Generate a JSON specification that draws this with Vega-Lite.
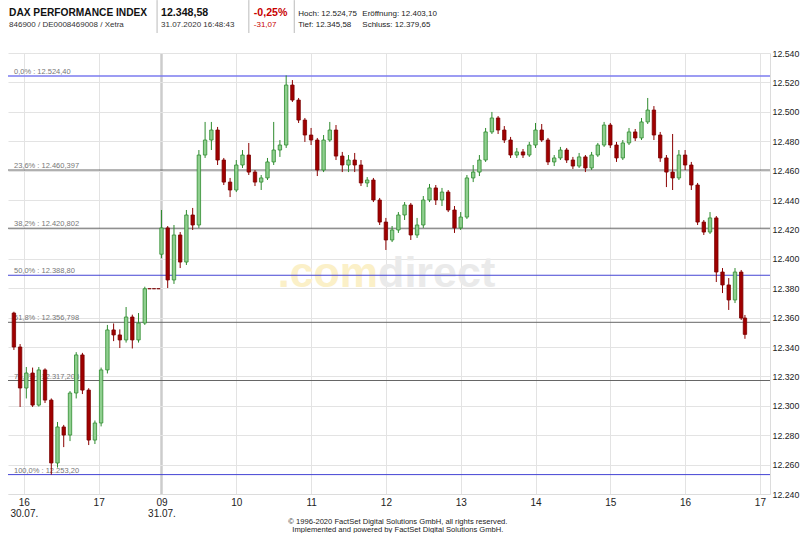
{
  "$schema": "https://vega.github.io/schema/vega-lite/v6.json",
  "width": 762,
  "height": 441,
  "autosize": {"type": "none"},
  "padding": {"left": 8, "top": 53, "right": 30, "bottom": 39},
  "background": "white",
  "config": {
    "view": {"stroke": null},
    "text": {"font": "Liberation Sans"},
    "axis": {"labelFont": "Liberation Sans", "labelOverlap": false, "labelBound": false, "labelFlush": false, "ticks": false, "domainColor": "#dcdcdc", "gridColor": "#e3e3e3", "labelColor": "#222222", "title": null}
  },
  "datasets": {
    "candles": [
      {"h": -0.133, "o": 12363.1, "hi": 12364.0, "lo": 12338.0, "c": 12340.0},
      {"h": -0.050, "o": 12340.0, "hi": 12342.0, "lo": 12299.2, "c": 12312.1},
      {"h": 0.033, "o": 12312.1, "hi": 12326.4, "lo": 12305.0, "c": 12322.3},
      {"h": 0.117, "o": 12322.3, "hi": 12326.0, "lo": 12299.2, "c": 12300.5},
      {"h": 0.200, "o": 12300.5, "hi": 12326.4, "lo": 12299.5, "c": 12324.4},
      {"h": 0.283, "o": 12324.4, "hi": 12325.5, "lo": 12301.9, "c": 12303.9},
      {"h": 0.367, "o": 12303.9, "hi": 12305.0, "lo": 12253.2, "c": 12261.1},
      {"h": 0.450, "o": 12261.1, "hi": 12289.0, "lo": 12258.0, "c": 12285.6},
      {"h": 0.533, "o": 12285.6, "hi": 12287.0, "lo": 12271.9, "c": 12280.1},
      {"h": 0.617, "o": 12280.1, "hi": 12310.0, "lo": 12276.0, "c": 12308.7},
      {"h": 0.700, "o": 12308.7, "hi": 12336.5, "lo": 12305.0, "c": 12334.6},
      {"h": 0.783, "o": 12334.6, "hi": 12336.0, "lo": 12308.0, "c": 12310.7},
      {"h": 0.867, "o": 12310.7, "hi": 12312.0, "lo": 12273.3, "c": 12276.7},
      {"h": 0.950, "o": 12276.7, "hi": 12290.0, "lo": 12274.0, "c": 12288.3},
      {"h": 1.033, "o": 12288.3, "hi": 12326.0, "lo": 12286.0, "c": 12324.4},
      {"h": 1.117, "o": 12324.4, "hi": 12355.0, "lo": 12322.0, "c": 12351.6},
      {"h": 1.200, "o": 12351.6, "hi": 12356.0, "lo": 12344.0, "c": 12348.2},
      {"h": 1.283, "o": 12348.2, "hi": 12352.0, "lo": 12339.3, "c": 12344.8},
      {"h": 1.367, "o": 12344.8, "hi": 12367.2, "lo": 12343.0, "c": 12360.4},
      {"h": 1.450, "o": 12360.4, "hi": 12362.0, "lo": 12339.0, "c": 12344.8},
      {"h": 1.533, "o": 12344.8, "hi": 12363.1, "lo": 12343.0, "c": 12356.3},
      {"h": 1.617, "o": 12356.3, "hi": 12381.0, "lo": 12355.0, "c": 12379.65},
      {"h": 1.680, "o": 12379.65, "hi": 12379.65, "lo": 12379.65, "c": 12379.65},
      {"h": 1.740, "o": 12379.65, "hi": 12379.65, "lo": 12379.65, "c": 12379.65},
      {"h": 1.800, "o": 12379.65, "hi": 12379.65, "lo": 12379.65, "c": 12379.65},
      {"h": 1.840, "o": 12403.1, "hi": 12433.2, "lo": 12400.5, "c": 12421.0},
      {"h": 1.923, "o": 12421.0, "hi": 12422.3, "lo": 12380.1, "c": 12385.6},
      {"h": 2.007, "o": 12385.6, "hi": 12423.0, "lo": 12382.9, "c": 12416.2},
      {"h": 2.090, "o": 12416.2, "hi": 12418.2, "lo": 12393.7, "c": 12397.8},
      {"h": 2.173, "o": 12397.8, "hi": 12433.2, "lo": 12395.8, "c": 12429.8},
      {"h": 2.257, "o": 12429.8, "hi": 12434.6, "lo": 12419.6, "c": 12423.0},
      {"h": 2.340, "o": 12423.0, "hi": 12474.0, "lo": 12421.0, "c": 12470.6},
      {"h": 2.423, "o": 12470.6, "hi": 12493.1, "lo": 12468.6, "c": 12480.8},
      {"h": 2.507, "o": 12480.8, "hi": 12493.1, "lo": 12474.0, "c": 12487.6},
      {"h": 2.590, "o": 12487.6, "hi": 12489.7, "lo": 12463.8, "c": 12467.2},
      {"h": 2.673, "o": 12467.2, "hi": 12468.6, "lo": 12450.2, "c": 12452.2},
      {"h": 2.757, "o": 12452.2, "hi": 12455.0, "lo": 12442.0, "c": 12446.8},
      {"h": 2.840, "o": 12446.8, "hi": 12467.2, "lo": 12445.4, "c": 12463.8},
      {"h": 2.923, "o": 12463.8, "hi": 12474.0, "lo": 12461.8, "c": 12470.6},
      {"h": 3.007, "o": 12470.6, "hi": 12478.8, "lo": 12457.0, "c": 12459.0},
      {"h": 3.090, "o": 12459.0, "hi": 12460.4, "lo": 12449.5, "c": 12452.2},
      {"h": 3.173, "o": 12452.2, "hi": 12457.0, "lo": 12446.8, "c": 12455.0},
      {"h": 3.257, "o": 12455.0, "hi": 12468.6, "lo": 12453.6, "c": 12465.9},
      {"h": 3.340, "o": 12465.9, "hi": 12493.1, "lo": 12463.8, "c": 12474.0},
      {"h": 3.423, "o": 12474.0, "hi": 12480.8, "lo": 12469.3, "c": 12477.4},
      {"h": 3.507, "o": 12477.4, "hi": 12524.75, "lo": 12475.4, "c": 12518.2},
      {"h": 3.590, "o": 12518.2, "hi": 12521.6, "lo": 12506.7, "c": 12508.0},
      {"h": 3.673, "o": 12508.0, "hi": 12509.4, "lo": 12492.4, "c": 12494.4},
      {"h": 3.757, "o": 12494.4, "hi": 12495.8, "lo": 12479.5, "c": 12484.2},
      {"h": 3.840, "o": 12484.2, "hi": 12489.0, "lo": 12477.4, "c": 12480.8},
      {"h": 3.923, "o": 12480.8, "hi": 12482.2, "lo": 12456.3, "c": 12460.4},
      {"h": 4.007, "o": 12460.4, "hi": 12484.2, "lo": 12459.0, "c": 12480.8},
      {"h": 4.090, "o": 12480.8, "hi": 12493.1, "lo": 12479.5, "c": 12487.6},
      {"h": 4.173, "o": 12487.6, "hi": 12491.0, "lo": 12467.2, "c": 12469.9},
      {"h": 4.257, "o": 12469.9, "hi": 12472.7, "lo": 12459.0, "c": 12463.8},
      {"h": 4.340, "o": 12463.8, "hi": 12470.6, "lo": 12459.0, "c": 12467.2},
      {"h": 4.423, "o": 12467.2, "hi": 12472.0, "lo": 12459.0, "c": 12463.8},
      {"h": 4.507, "o": 12463.8, "hi": 12467.2, "lo": 12449.5, "c": 12451.6},
      {"h": 4.590, "o": 12451.6, "hi": 12455.6, "lo": 12448.8, "c": 12453.6},
      {"h": 4.673, "o": 12453.6, "hi": 12455.0, "lo": 12438.6, "c": 12440.0},
      {"h": 4.757, "o": 12440.0, "hi": 12441.4, "lo": 12423.0, "c": 12425.0},
      {"h": 4.840, "o": 12425.0, "hi": 12427.8, "lo": 12406.0, "c": 12412.8},
      {"h": 4.923, "o": 12412.8, "hi": 12422.3, "lo": 12411.4, "c": 12419.6},
      {"h": 5.007, "o": 12419.6, "hi": 12431.8, "lo": 12417.6, "c": 12429.8},
      {"h": 5.090, "o": 12429.8, "hi": 12438.6, "lo": 12426.4, "c": 12436.6},
      {"h": 5.173, "o": 12436.6, "hi": 12438.0, "lo": 12412.8, "c": 12416.2},
      {"h": 5.257, "o": 12416.2, "hi": 12427.8, "lo": 12414.2, "c": 12423.0},
      {"h": 5.340, "o": 12423.0, "hi": 12442.7, "lo": 12421.0, "c": 12440.0},
      {"h": 5.423, "o": 12440.0, "hi": 12450.9, "lo": 12438.6, "c": 12448.2},
      {"h": 5.507, "o": 12448.2, "hi": 12450.2, "lo": 12436.6, "c": 12440.0},
      {"h": 5.590, "o": 12440.0, "hi": 12448.2, "lo": 12435.9, "c": 12445.4},
      {"h": 5.673, "o": 12445.4, "hi": 12446.8, "lo": 12431.8, "c": 12433.2},
      {"h": 5.757, "o": 12433.2, "hi": 12435.9, "lo": 12417.6, "c": 12421.0},
      {"h": 5.840, "o": 12421.0, "hi": 12431.8, "lo": 12419.6, "c": 12428.4},
      {"h": 5.923, "o": 12428.4, "hi": 12457.0, "lo": 12427.1, "c": 12455.0},
      {"h": 6.007, "o": 12455.0, "hi": 12463.8, "lo": 12452.2, "c": 12459.0},
      {"h": 6.090, "o": 12459.0, "hi": 12470.6, "lo": 12456.3, "c": 12467.2},
      {"h": 6.173, "o": 12467.2, "hi": 12489.0, "lo": 12465.9, "c": 12486.3},
      {"h": 6.257, "o": 12486.3, "hi": 12499.9, "lo": 12484.9, "c": 12495.8},
      {"h": 6.340, "o": 12495.8, "hi": 12497.1, "lo": 12484.9, "c": 12487.6},
      {"h": 6.423, "o": 12487.6, "hi": 12490.3, "lo": 12478.8, "c": 12480.8},
      {"h": 6.507, "o": 12480.8, "hi": 12482.9, "lo": 12468.6, "c": 12470.6},
      {"h": 6.590, "o": 12470.6, "hi": 12475.4, "lo": 12468.6, "c": 12472.7},
      {"h": 6.673, "o": 12472.7, "hi": 12474.7, "lo": 12468.6, "c": 12470.6},
      {"h": 6.757, "o": 12470.6, "hi": 12479.5, "lo": 12469.3, "c": 12477.4},
      {"h": 6.840, "o": 12477.4, "hi": 12492.4, "lo": 12475.4, "c": 12487.6},
      {"h": 6.923, "o": 12487.6, "hi": 12491.7, "lo": 12479.5, "c": 12480.8},
      {"h": 7.007, "o": 12480.8, "hi": 12482.2, "lo": 12463.8, "c": 12465.9},
      {"h": 7.090, "o": 12465.9, "hi": 12470.6, "lo": 12463.1, "c": 12468.6},
      {"h": 7.173, "o": 12468.6, "hi": 12476.1, "lo": 12467.2, "c": 12474.0},
      {"h": 7.257, "o": 12474.0, "hi": 12475.4, "lo": 12465.2, "c": 12467.2},
      {"h": 7.340, "o": 12467.2, "hi": 12469.3, "lo": 12461.1, "c": 12463.1},
      {"h": 7.423, "o": 12463.1, "hi": 12472.0, "lo": 12461.8, "c": 12469.3},
      {"h": 7.507, "o": 12469.3, "hi": 12470.6, "lo": 12459.0, "c": 12461.8},
      {"h": 7.590, "o": 12461.8, "hi": 12472.7, "lo": 12460.4, "c": 12470.6},
      {"h": 7.673, "o": 12470.6, "hi": 12478.8, "lo": 12469.3, "c": 12477.4},
      {"h": 7.757, "o": 12477.4, "hi": 12493.1, "lo": 12476.1, "c": 12491.0},
      {"h": 7.840, "o": 12491.0, "hi": 12492.4, "lo": 12475.4, "c": 12477.4},
      {"h": 7.923, "o": 12477.4, "hi": 12479.5, "lo": 12465.9, "c": 12468.6},
      {"h": 8.007, "o": 12468.6, "hi": 12480.8, "lo": 12467.2, "c": 12478.8},
      {"h": 8.090, "o": 12478.8, "hi": 12489.0, "lo": 12477.4, "c": 12486.3},
      {"h": 8.173, "o": 12486.3, "hi": 12488.3, "lo": 12480.1, "c": 12482.2},
      {"h": 8.257, "o": 12482.2, "hi": 12495.8, "lo": 12480.8, "c": 12493.1},
      {"h": 8.340, "o": 12493.1, "hi": 12509.4, "lo": 12491.7, "c": 12501.2},
      {"h": 8.423, "o": 12501.2, "hi": 12503.9, "lo": 12480.8, "c": 12484.2},
      {"h": 8.507, "o": 12484.2, "hi": 12486.3, "lo": 12465.9, "c": 12468.6},
      {"h": 8.590, "o": 12468.6, "hi": 12470.6, "lo": 12448.8, "c": 12459.0},
      {"h": 8.673, "o": 12459.0, "hi": 12484.9, "lo": 12446.8, "c": 12455.0},
      {"h": 8.757, "o": 12455.0, "hi": 12474.0, "lo": 12453.6, "c": 12470.6},
      {"h": 8.840, "o": 12470.6, "hi": 12474.0, "lo": 12460.4, "c": 12463.8},
      {"h": 8.923, "o": 12463.8, "hi": 12465.9, "lo": 12446.8, "c": 12450.2},
      {"h": 9.007, "o": 12450.2, "hi": 12451.6, "lo": 12423.0, "c": 12425.0},
      {"h": 9.090, "o": 12425.0, "hi": 12426.4, "lo": 12416.2, "c": 12418.2},
      {"h": 9.173, "o": 12418.2, "hi": 12431.8, "lo": 12416.9, "c": 12427.8},
      {"h": 9.257, "o": 12427.8, "hi": 12429.1, "lo": 12384.2, "c": 12391.0},
      {"h": 9.340, "o": 12391.0, "hi": 12393.7, "lo": 12376.7, "c": 12382.2},
      {"h": 9.423, "o": 12382.2, "hi": 12386.9, "lo": 12365.2, "c": 12372.0},
      {"h": 9.507, "o": 12372.0, "hi": 12393.7, "lo": 12369.9, "c": 12391.0},
      {"h": 9.590, "o": 12391.0, "hi": 12392.4, "lo": 12358.4, "c": 12359.7},
      {"h": 9.640, "o": 12359.7, "hi": 12361.8, "lo": 12345.58, "c": 12348.58}
    ],
    "fib": [
      {"pct": 0, "value": 12524.40, "label": "0,0% : 12.524,40"},
      {"pct": 23.6, "value": 12460.397, "label": "23,6% : 12.460,397"},
      {"pct": 38.2, "value": 12420.802, "label": "38,2% : 12.420,802"},
      {"pct": 50, "value": 12388.80, "label": "50,0% : 12.388,80"},
      {"pct": 61.8, "value": 12356.798, "label": "61,8% : 12.356,798"},
      {"pct": 76.4, "value": 12317.203, "label": "76,4% : 12.317,203"},
      {"pct": 100, "value": 12253.20, "label": "100,0% : 12.253,20"}
    ]
  },
  "layer": [
    {
      "data": {"name": "candles"},
      "mark": {"type": "rule", "strokeWidth": 1},
      "encoding": {
        "x": {
          "field": "h", "type": "quantitative", "title": null,
          "scale": {"domain": [-0.145, 9.908], "nice": false, "zero": false},
          "axis": {
            "values": [0, 1, 1.84, 2.84, 3.84, 4.84, 5.84, 6.84, 7.84, 8.84, 9.84],
            "tickCount": 30,
            "labelExpr": "datum.value < 0.5 ? ['16', '30.07.'] : datum.value < 1.5 ? '17' : abs(datum.value - 1.84) < 0.01 ? ['09', '31.07.'] : format(round(datum.value + 7.16), 'd')",
            "gridColor": {"condition": {"test": "abs(datum.value - 1.84) < 0.01", "value": "#cccccc"}, "value": "#e3e3e3"},
            "gridWidth": {"condition": {"test": "abs(datum.value - 1.84) < 0.01", "value": 2.5}, "value": 1},
            "labelFontSize": 10, "labelPadding": 3, "labelLineHeight": 11
          }
        },
        "y": {
          "field": "lo", "type": "quantitative", "title": null,
          "scale": {"domain": [12240, 12540], "nice": false, "zero": false},
          "axis": {
            "orient": "right",
            "values": [12240, 12260, 12280, 12300, 12320, 12340, 12360, 12380, 12400, 12420, 12440, 12460, 12480, 12500, 12520, 12540],
            "tickCount": 30,
            "labelExpr": "replace(format(datum.value, ','), ',', '.')",
            "labelFontSize": 8.8, "labelPadding": 2
          }
        },
        "y2": {"field": "hi"},
        "opacity": {"value": 0}
      }
    },
    {
      "data": {"values": [{"label": ".com"}]},
      "mark": {"type": "text", "align": "right", "baseline": "alphabetic", "fontSize": 43, "fontWeight": "bold", "color": "#fbf0c8"},
      "encoding": {
        "x": {"datum": 4.736, "type": "quantitative"},
        "y": {"datum": 12380.5, "type": "quantitative"},
        "text": {"field": "label"}
      }
    },
    {
      "data": {"values": [{"label": "direct"}]},
      "mark": {"type": "text", "align": "left", "baseline": "alphabetic", "fontSize": 43, "fontWeight": "bold", "color": "#eaeaea"},
      "encoding": {
        "x": {"datum": 4.736, "type": "quantitative"},
        "y": {"datum": 12380.5, "type": "quantitative"},
        "text": {"field": "label"}
      }
    },
    {
      "data": {"name": "fib"},
      "mark": {"type": "rule"},
      "encoding": {
        "y": {"field": "value", "type": "quantitative", "title": null},
        "color": {"condition": [{"test": "datum.pct == 0", "value": "#7b7bef"}, {"test": "datum.pct == 50 || datum.pct == 100", "value": "#4444d4"}], "value": "#666666"},
        "strokeWidth": {"condition": {"test": "datum.pct == 0", "value": 1.6}, "value": 1}
      }
    },
    {
      "data": {"name": "fib"},
      "mark": {"type": "text", "align": "left", "baseline": "alphabetic", "dx": 1, "dy": -2, "fontSize": 7.5, "color": "#777777"},
      "encoding": {
        "x": {"datum": -0.145, "type": "quantitative"},
        "y": {"field": "value", "type": "quantitative", "title": null},
        "text": {"field": "label"}
      }
    },
    {
      "data": {"name": "candles"},
      "mark": {"type": "rule", "strokeWidth": 1},
      "encoding": {
        "x": {"field": "h", "type": "quantitative", "title": null},
        "y": {"field": "lo", "type": "quantitative", "title": null},
        "y2": {"field": "hi"},
        "color": {"condition": {"test": "datum.c > datum.o", "value": "#2e8b2e"}, "value": "#8b0000"}
      }
    },
    {
      "data": {"name": "candles"},
      "mark": {"type": "bar", "width": 3.4, "strokeWidth": 0.8},
      "encoding": {
        "x": {"field": "h", "type": "quantitative", "title": null},
        "y": {"field": "o", "type": "quantitative", "title": null},
        "y2": {"field": "c"},
        "fill": {"condition": {"test": "datum.c > datum.o", "value": "#8fcf8f"}, "value": "#a00000"},
        "stroke": {"condition": {"test": "datum.c > datum.o", "value": "#2e8b2e"}, "value": "#7a0000"}
      }
    },
    {
      "data": {"values": [{"label": "DAX PERFORMANCE INDEX"}]},
      "mark": {"type": "text", "align": "left", "baseline": "alphabetic", "fontSize": 10.2, "fontWeight": "bold", "color": "#111111"},
      "encoding": {"x": {"datum": -0.198, "type": "quantitative"}, "y": {"datum": 12565.2, "type": "quantitative"}, "text": {"field": "label"}}
    },
    {
      "data": {"values": [{"label": "846900 / DE0008469008 / Xetra"}]},
      "mark": {"type": "text", "align": "left", "baseline": "alphabetic", "fontSize": 8, "color": "#333333"},
      "encoding": {"x": {"datum": -0.198, "type": "quantitative"}, "y": {"datum": 12557.7, "type": "quantitative"}, "text": {"field": "label"}}
    },
    {
      "data": {"values": [{"label": "12.348,58"}]},
      "mark": {"type": "text", "align": "left", "baseline": "alphabetic", "fontSize": 10.6, "fontWeight": "bold", "color": "#111111"},
      "encoding": {"x": {"datum": 1.834, "type": "quantitative"}, "y": {"datum": 12565.2, "type": "quantitative"}, "text": {"field": "label"}}
    },
    {
      "data": {"values": [{"label": "31.07.2020 16:48:43"}]},
      "mark": {"type": "text", "align": "left", "baseline": "alphabetic", "fontSize": 8, "color": "#333333"},
      "encoding": {"x": {"datum": 1.834, "type": "quantitative"}, "y": {"datum": 12557.7, "type": "quantitative"}, "text": {"field": "label"}}
    },
    {
      "data": {"values": [{"label": "-0,25%"}]},
      "mark": {"type": "text", "align": "left", "baseline": "alphabetic", "fontSize": 10.6, "fontWeight": "bold", "color": "#c80000"},
      "encoding": {"x": {"datum": 3.074, "type": "quantitative"}, "y": {"datum": 12565.2, "type": "quantitative"}, "text": {"field": "label"}}
    },
    {
      "data": {"values": [{"label": "-31,07"}]},
      "mark": {"type": "text", "align": "left", "baseline": "alphabetic", "fontSize": 8, "color": "#c80000"},
      "encoding": {"x": {"datum": 3.074, "type": "quantitative"}, "y": {"datum": 12557.7, "type": "quantitative"}, "text": {"field": "label"}}
    },
    {
      "data": {"values": [{"label": "Hoch: 12.524,75"}]},
      "mark": {"type": "text", "align": "left", "baseline": "alphabetic", "fontSize": 8, "color": "#222222"},
      "encoding": {"x": {"datum": 3.668, "type": "quantitative"}, "y": {"datum": 12565.2, "type": "quantitative"}, "text": {"field": "label"}}
    },
    {
      "data": {"values": [{"label": "Tief: 12.345,58"}]},
      "mark": {"type": "text", "align": "left", "baseline": "alphabetic", "fontSize": 8, "color": "#222222"},
      "encoding": {"x": {"datum": 3.668, "type": "quantitative"}, "y": {"datum": 12557.7, "type": "quantitative"}, "text": {"field": "label"}}
    },
    {
      "data": {"values": [{"label": "Eröffnung: 12.403,10"}]},
      "mark": {"type": "text", "align": "left", "baseline": "alphabetic", "fontSize": 8, "color": "#222222"},
      "encoding": {"x": {"datum": 4.525, "type": "quantitative"}, "y": {"datum": 12565.2, "type": "quantitative"}, "text": {"field": "label"}}
    },
    {
      "data": {"values": [{"label": "Schluss: 12.379,65"}]},
      "mark": {"type": "text", "align": "left", "baseline": "alphabetic", "fontSize": 8, "color": "#222222"},
      "encoding": {"x": {"datum": 4.525, "type": "quantitative"}, "y": {"datum": 12557.7, "type": "quantitative"}, "text": {"field": "label"}}
    },
    {
      "data": {"values": [{"label": "separator"}]},
      "mark": {"type": "rule", "color": "#bbbbbb", "strokeWidth": 1},
      "encoding": {"x": {"datum": 1.781, "type": "quantitative"}, "y": {"datum": 12576.0, "type": "quantitative"}, "y2": {"datum": 12553.6}}
    },
    {
      "data": {"values": [{"label": "separator"}]},
      "mark": {"type": "rule", "color": "#bbbbbb", "strokeWidth": 1},
      "encoding": {"x": {"datum": 3.008, "type": "quantitative"}, "y": {"datum": 12576.0, "type": "quantitative"}, "y2": {"datum": 12553.6}}
    },
    {
      "data": {"values": [{"label": "separator"}]},
      "mark": {"type": "rule", "color": "#bbbbbb", "strokeWidth": 1},
      "encoding": {"x": {"datum": 3.615, "type": "quantitative"}, "y": {"datum": 12576.0, "type": "quantitative"}, "y2": {"datum": 12553.6}}
    },
    {
      "data": {"values": [{"label": "© 1996-2020 FactSet Digital Solutions GmbH, all rights reserved."}]},
      "mark": {"type": "text", "align": "center", "baseline": "alphabetic", "fontSize": 7.6, "color": "#222222"},
      "encoding": {"x": {"datum": 5.0, "type": "quantitative"}, "y": {"datum": 12219.6, "type": "quantitative"}, "text": {"field": "label"}}
    },
    {
      "data": {"values": [{"label": "Implemented and powered by FactSet Digital Solutions GmbH."}]},
      "mark": {"type": "text", "align": "center", "baseline": "alphabetic", "fontSize": 7.6, "color": "#222222"},
      "encoding": {"x": {"datum": 5.0, "type": "quantitative"}, "y": {"datum": 12214.1, "type": "quantitative"}, "text": {"field": "label"}}
    }
  ]
}
